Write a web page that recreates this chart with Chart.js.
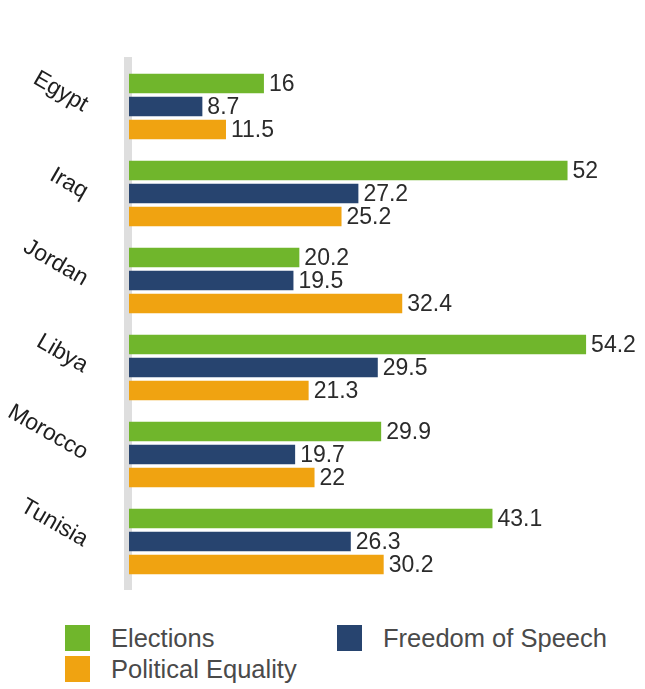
<!DOCTYPE html>
<html>
<head>
<meta charset="utf-8">
<title>Elections, Freedom of Speech, Political Equality</title>
<script src="https://cdn.jsdelivr.net/npm/chart.js@4/dist/chart.umd.min.js"></script>
<style>
	body {margin: 0; background: #ffffff;}
	#wrap {position: relative; width: 645px; height: 689px;}
	#legend {position: absolute; left: 65px; top: 625px; display: grid; grid-template-columns: 272px auto; row-gap: 5px;}
	#legend .item {display: flex; align-items: center; height: 26px;}
	#legend .swatch {width: 25px; height: 26px; margin-right: 21px;}
	#legend .label {font-family: "Liberation Sans", Arial, sans-serif; font-size: 25.5px; color: #4a4a4a; line-height: 26px;}
</style>
</head>
<body>
<div id="wrap">
	<canvas id="chart" width="645" height="605"></canvas>
	<div id="legend"></div>
</div>
<script>

// Data
const countries = ['Egypt', 'Iraq', 'Jordan', 'Libya', 'Morocco', 'Tunisia'];
const elections = [16, 52, 20.2, 54.2, 29.9, 43.1];
const freedomOfSpeech = [8.7, 27.2, 19.5, 29.5, 19.7, 26.3];
const politicalEquality = [11.5, 25.2, 32.4, 21.3, 22, 30.2];

// Series labels and colours
const seriesNames = ['Elections', 'Freedom of Speech', 'Political Equality'];
const seriesColours = ['#70b62c', '#27446f', '#f0a311'];


// Plugin to draw the grey axis bar behind the bars
const axisBar = {
	id: 'axisBar',
	beforeDatasetsDraw (chart)
	{
		const area = chart.chartArea;
		const ctx = chart.ctx;
		ctx.save();
		ctx.fillStyle = '#dedede';
		ctx.fillRect(area.left - 5, area.top - 6, 8, area.bottom - area.top + 11);
		ctx.restore();
	}
};

// Plugin to write the value at the end of each bar
const valueLabels = {
	id: 'valueLabels',
	afterDatasetsDraw (chart)
	{
		const ctx = chart.ctx;
		ctx.save();
		ctx.font = '23px "Liberation Sans", Arial, sans-serif';
		ctx.fillStyle = '#2b2b2b';
		ctx.textAlign = 'left';
		ctx.textBaseline = 'middle';
		chart.data.datasets.forEach((dataset, i) => {
			chart.getDatasetMeta(i).data.forEach((bar, j) => {
				ctx.fillText(String(dataset.data[j]), bar.x + 5, bar.y + 1);
			});
		});
		ctx.restore();
	}
};


// Render the chart
const chart = new Chart(document.getElementById('chart').getContext('2d'), {
	type: 'bar',
	data: {
		labels: countries,
		datasets: [
			{label: seriesNames[0], data: elections, backgroundColor: seriesColours[0]},
			{label: seriesNames[1], data: freedomOfSpeech, backgroundColor: seriesColours[1]},
			{label: seriesNames[2], data: politicalEquality, backgroundColor: seriesColours[2]}
		]
	},
	options: {
		indexAxis: 'y',
		responsive: false,
		animation: false,
		categoryPercentage: 0.79,
		barPercentage: 0.85,
		layout: {
			padding: {top: 63, right: 10, bottom: 20, left: 0}
		},
		scales: {
			x: {
				display: false,
				min: 0,
				max: 60
			},
			y: {
				grid: {display: false, drawTicks: false},
				border: {display: false},
				// Fixed axis width, and no extra room for the rotated end labels
				afterFit: (scale) => {
					scale.width = 129;
					scale.paddingTop = 0;
					scale.paddingBottom = 0;
				},
				ticks: {
					autoSkip: false,
					minRotation: -30,
					maxRotation: -30,
					padding: 43,
					color: '#1e1e1e',
					font: {family: '"Liberation Sans", Arial, sans-serif', size: 23}
				}
			}
		},
		plugins: {
			legend: {display: false},
			tooltip: {enabled: false}
		}
	},
	plugins: [axisBar, valueLabels]
});


// Build the legend from the chart's own legend items
const legendItems = chart.options.plugins.legend.labels.generateLabels(chart);
const legendDiv = document.getElementById('legend');
legendItems.forEach(item => {
	const div = document.createElement('div');
	div.className = 'item';
	div.innerHTML = '<span class="swatch" style="background:' + item.fillStyle + '"></span><span class="label">' + item.text + '</span>';
	legendDiv.appendChild(div);
});

</script>
</body>
</html>
